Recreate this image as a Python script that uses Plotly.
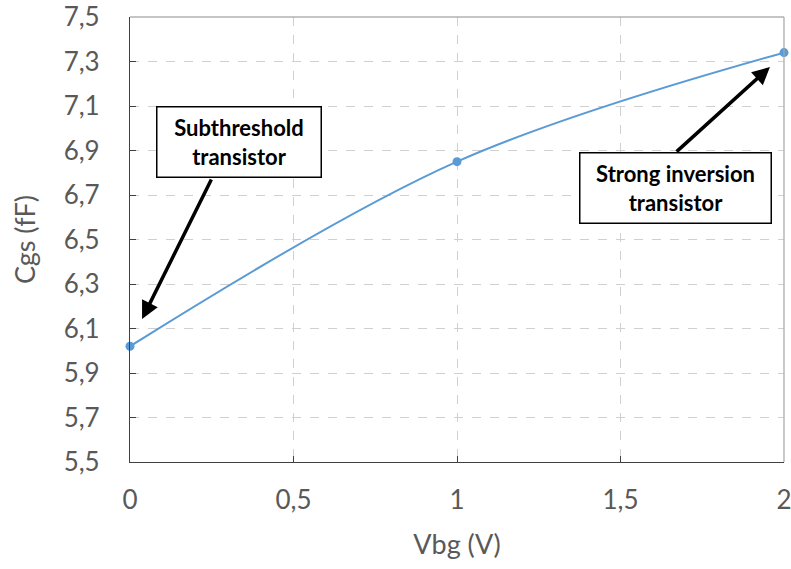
import plotly.graph_objects as go

vbg = [0, 1, 2]
cgs = [6.02, 6.85, 7.34]

x_ticks = [0, 0.5, 1, 1.5, 2]
y_ticks = [5.5, 5.7, 5.9, 6.1, 6.3, 6.5, 6.7, 6.9, 7.1, 7.3, 7.5]

font_family = "Lato, 'Open Sans', sans-serif"
label_color = "#595959"
axis_color = "#404040"
grid_color = "#d0d0d0"

fig = go.Figure()

fig.add_trace(
    go.Scatter(
        x=vbg,
        y=cgs,
        mode="lines+markers",
        line=dict(color="#5b9bd5", width=2, shape="spline", smoothing=1),
        marker=dict(color="#5b9bd5", size=9),
        showlegend=False,
        hoverinfo="skip",
        cliponaxis=False,
    )
)

# boxes with the labels
box_style = dict(
    showarrow=False,
    bgcolor="white",
    bordercolor="black",
    borderwidth=1.5,
    borderpad=3,
    font=dict(family=font_family, size=22, color="black"),
    xref="x",
    yref="y",
)
annotations = [
    dict(text="<b>Subthreshold<br>transistor</b>", x=0.332, y=6.938,
         width=157, height=63, **box_style),
    dict(text="<b>Strong inversion<br>transistor</b>", x=1.667, y=6.731,
         width=184, height=63, **box_style),
]

# arrows pointing to the end points
arrow_style = dict(
    text="",
    showarrow=True,
    arrowhead=2,
    arrowsize=1,
    arrowwidth=3.5,
    arrowcolor="black",
    xref="x",
    yref="y",
    axref="x",
    ayref="y",
)
annotations.append(dict(x=0.037, y=6.143, ax=0.251, ay=6.776, **arrow_style))
annotations.append(dict(x=1.957, y=7.275, ax=1.667, ay=6.889, **arrow_style))

axis_common = dict(
    showline=True,
    linecolor=axis_color,
    linewidth=1.2,
    showgrid=True,
    gridcolor=grid_color,
    griddash="dash",
    gridwidth=1,
    zeroline=False,
    ticks="inside",
    ticklen=6,
    tickcolor=axis_color,
    tickfont=dict(family=font_family, size=26, color=label_color),
    ticklabeloverflow="allow",
    automargin=False,
)

fig.update_layout(
    width=791,
    height=569,
    paper_bgcolor="white",
    plot_bgcolor="white",
    separators=", ",
    margin=dict(l=130, r=7, t=17, b=107),
    xaxis=dict(
        range=[0, 2],
        tickvals=x_ticks,
        ticklabelstandoff=15,
        title=dict(text="Vbg (V)", font=dict(family=font_family, size=27, color=label_color), standoff=20),
        **axis_common,
    ),
    yaxis=dict(
        range=[5.5, 7.5],
        tickvals=y_ticks,
        tickformat=".1f",
        ticklabelstandoff=24,
        title=dict(text="Cgs (fF)", font=dict(family=font_family, size=27, color=label_color), standoff=20),
        **axis_common,
    ),
    annotations=annotations,
    shapes=[
        dict(type="line", xref="paper", yref="paper", x0=0, x1=1, y0=1, y1=1,
             line=dict(color="#8c8c8c", width=1.2)),
        dict(type="line", xref="paper", yref="paper", x0=1, x1=1, y0=0, y1=1,
             line=dict(color="#a6a6a6", width=1.2)),
    ],
)

# drop the default page margin so the figure fills the window
fig.write_html(
    "out.html",
    config={"displayModeBar": False},
    post_script="document.body.style.margin = '0';",
)
